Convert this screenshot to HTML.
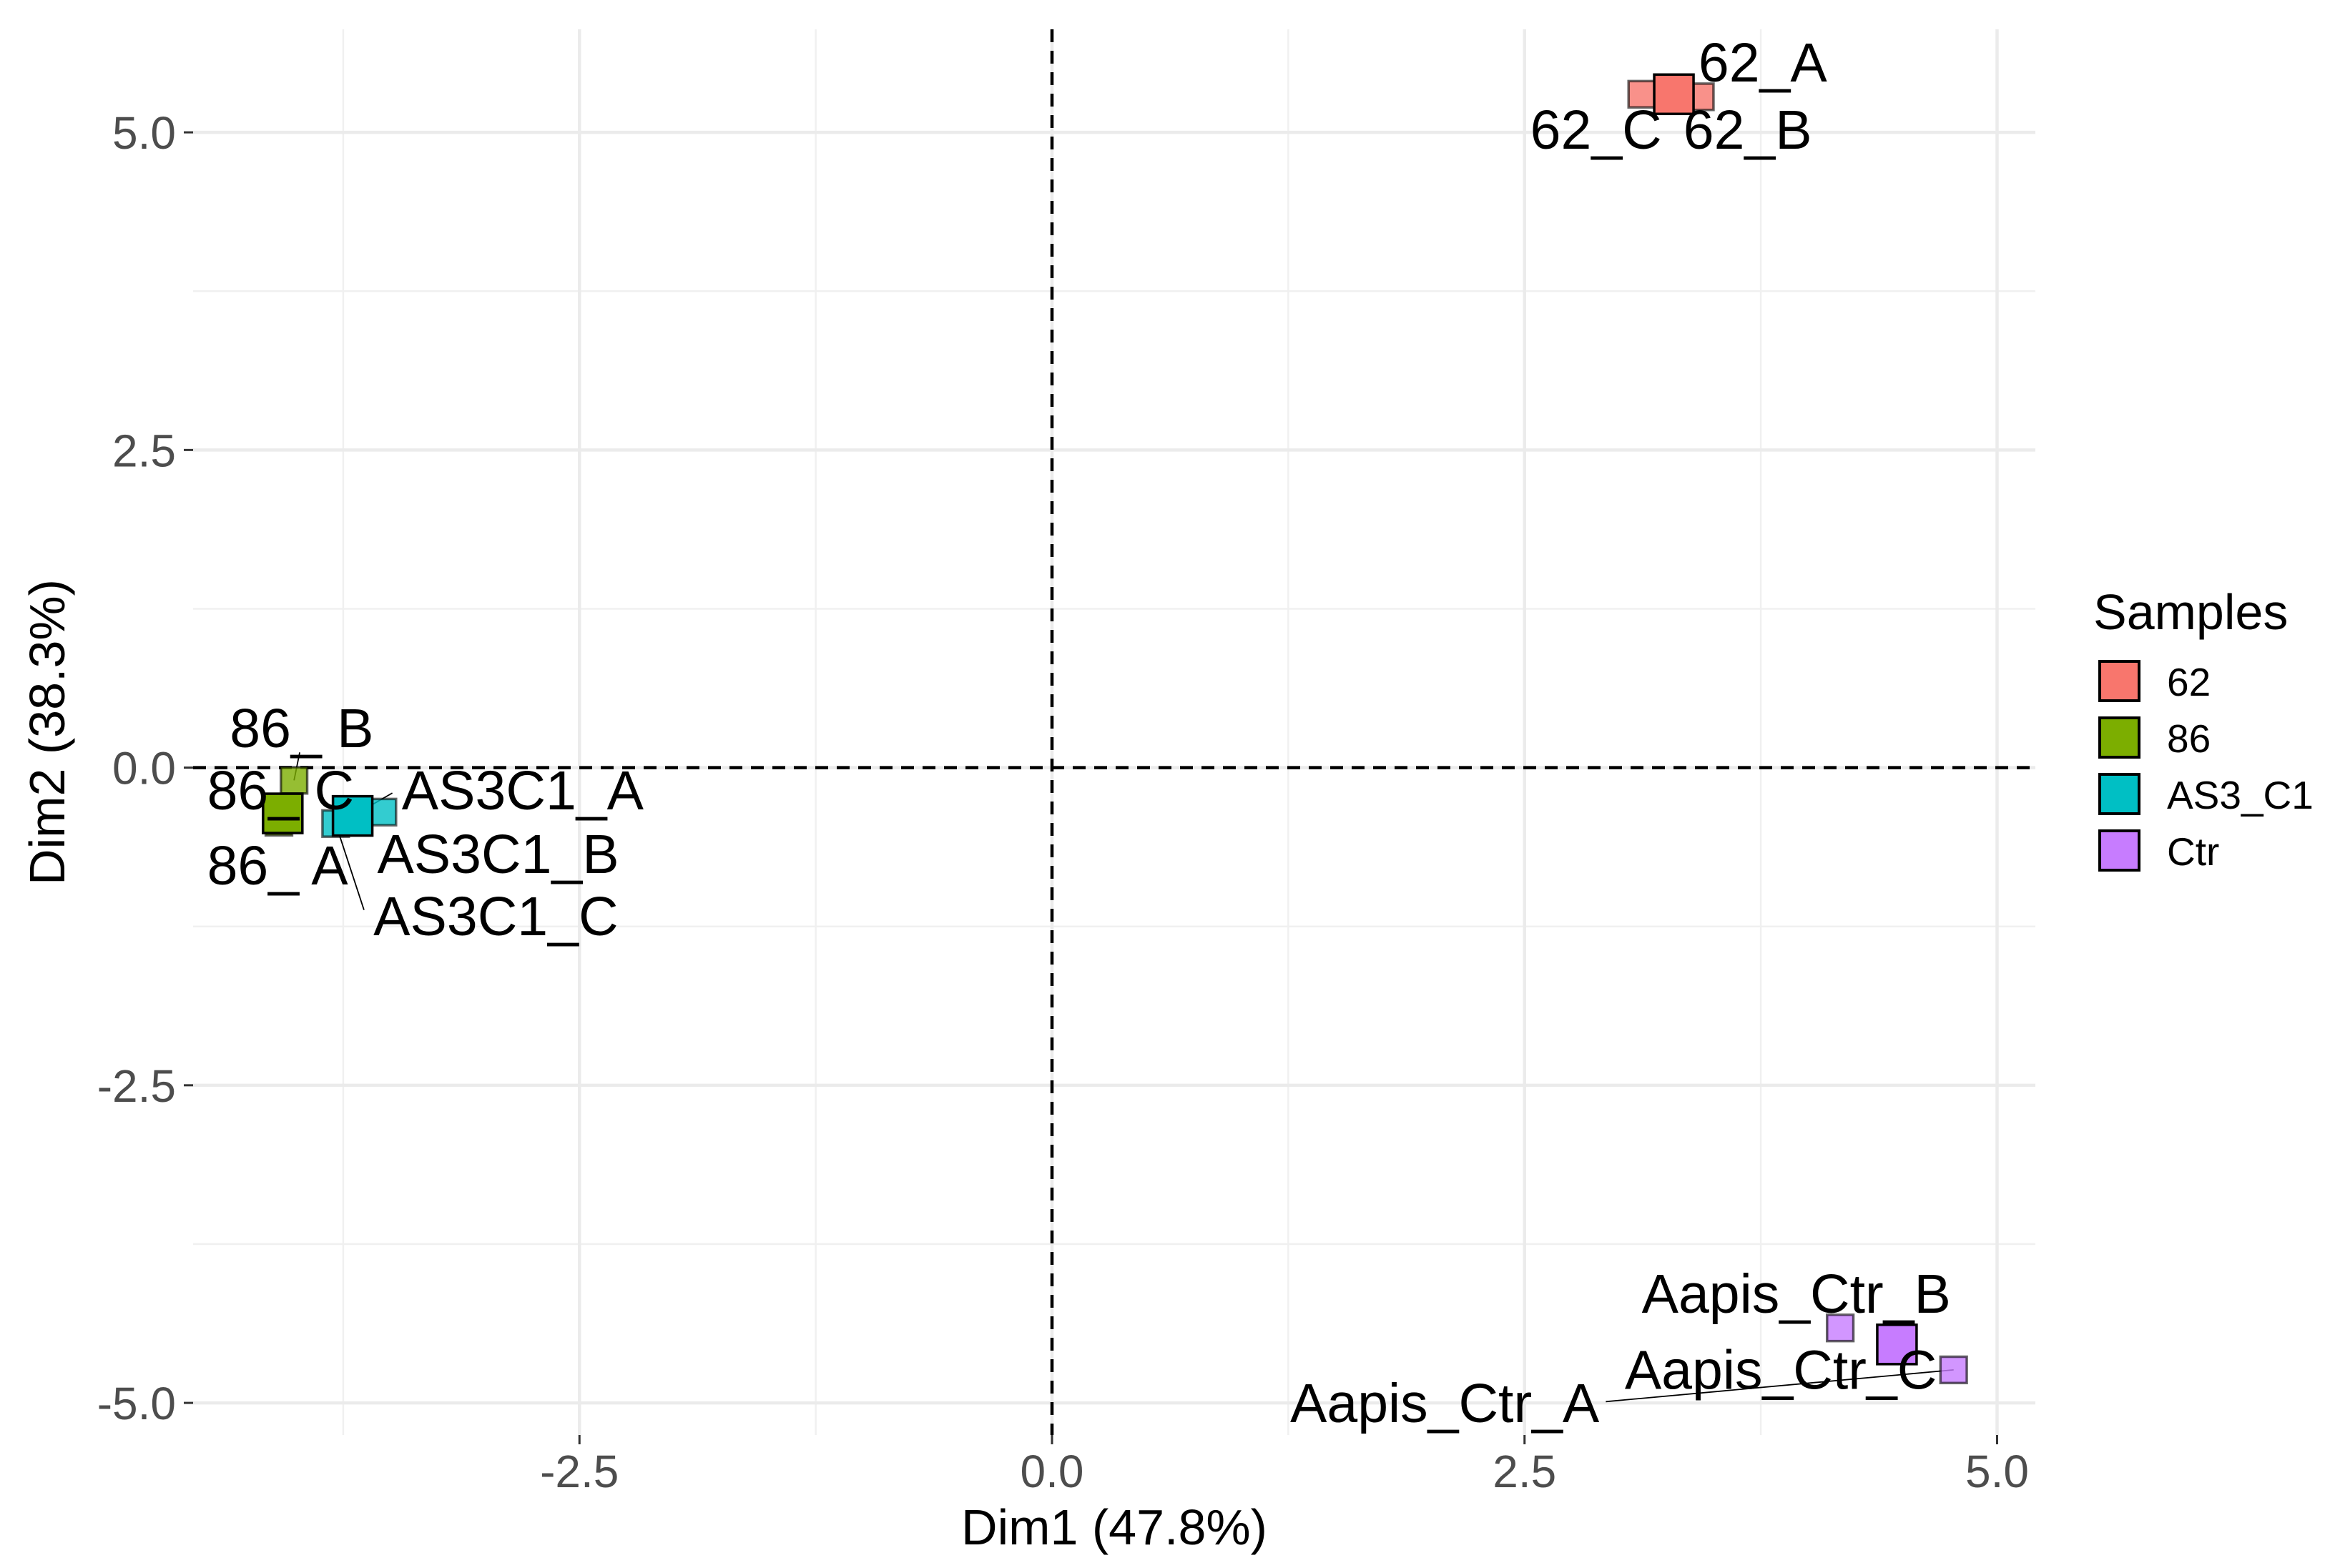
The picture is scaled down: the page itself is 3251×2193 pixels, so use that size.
<!DOCTYPE html>
<html><head><meta charset="utf-8">
<style>
html,body{margin:0;padding:0;background:#fff;}
svg{display:block;font-family:"Liberation Sans",Arial,sans-serif;}
</style></head>
<body>
<svg id="chart" width="3251" height="2193" viewBox="0 0 3251 2193" xmlns="http://www.w3.org/2000/svg">
<rect x="0" y="0" width="3251" height="2193" fill="#fff"/>
<g id="grid"></g>
<g id="refs"></g>
<g id="segs"></g>
<g id="pts"></g>
<g id="lbls"></g>
<g id="axes"></g>
<text x="1558" y="2160" font-size="70" text-anchor="middle" fill="#000">Dim1 (47.8%)</text>
<text transform="translate(90,1024) rotate(-90)" font-size="70" text-anchor="middle" fill="#000">Dim2 (38.3%)</text>
<g id="legend">
<text x="2927" y="880" font-size="70" fill="#000">Samples</text>
</g>
</svg>
<script>
const names = ["62_C","62_B","62_A","86_A","86_B","86_C","AS3C1_B","AS3C1_C","AS3C1_A","Aapis_Ctr_B","Aapis_Ctr_A","Aapis_Ctr_C"];
const groups = ["62","62","62","86","86","86","AS3_C1","AS3_C1","AS3_C1","Ctr","Ctr","Ctr"];
const xs = [3.12,3.43,3.29,-4.09,-4.01,-4.07,-3.54,-3.79,-3.70,4.17,4.77,4.47];
const ys = [5.30,5.28,5.30,-0.43,-0.10,-0.36,-0.35,-0.44,-0.38,-4.41,-4.74,-4.54];
const sizes = [0.3,0.3,1,0.3,0.3,1,0.3,0.3,1,0.3,0.3,1];
const labelText = ["62_C","62_B","62_A","86_ A","86_ B","86_ C","AS3C1_B","AS3C1_C","AS3C1_A","Aapis_Ctr_B","Aapis_Ctr_A","Aapis_Ctr_C"];
const labelX = [2.53,3.34,3.42,-4.47,-4.35,-4.47,-3.57,-3.59,-3.44,3.12,1.26,3.03];
const labelY = [4.87,4.87,5.40,-0.92,0.16,-0.33,-0.83,-1.32,-0.33,-4.29,-5.15,-4.89];
const segStartX = [null,null,null,null,-3.98,null,null,-3.64,-3.49,null,2.93,null];
const segStartY = [null,null,null,null,0.12,null,null,-1.12,-0.20,null,-4.99,null];
const legendCats = ["62","86","AS3_C1","Ctr"];
const colors = ["#F8766D","#7CAE00","#00BFC4","#C77CFF"];
const xTicks = [-2.5,0.0,2.5,5.0];
const xTickLabels = ["-2.5","0.0","2.5","5.0"];
const yTicks = [-5.0,-2.5,0.0,2.5,5.0];
const yTickLabels = ["-5.0","-2.5","0.0","2.5","5.0"];
const xMinor = [-3.75,-1.25,1.25,3.75];
const yMinor = [-3.75,-1.25,1.25,3.75];

const NS="http://www.w3.org/2000/svg";
const L=270,R=2846,T=41,B=2007;
function sx(v){return 1471+v*264.3;}
function sy(v){return 1073.6-v*177.7;}
function mk(tag,attrs,parent){const e=document.createElementNS(NS,tag);for(const k in attrs)e.setAttribute(k,attrs[k]);parent.appendChild(e);return e;}
const grid=document.getElementById('grid');
xMinor.forEach(v=>{const e=mk('line',{x1:sx(v),x2:sx(v),y1:T,y2:B,stroke:'#f0f0f0','stroke-width':2.5},grid);

});
yMinor.forEach(v=>{const e=mk('line',{x1:L,x2:R,y1:sy(v),y2:sy(v),stroke:'#f0f0f0','stroke-width':2.5},grid);

});
xTicks.forEach(v=>{const e=mk('line',{x1:sx(v),x2:sx(v),y1:T,y2:B,stroke:'#ebebeb','stroke-width':4.5},grid);

});
yTicks.forEach(v=>{const e=mk('line',{x1:L,x2:R,y1:sy(v),y2:sy(v),stroke:'#ebebeb','stroke-width':4.5},grid);

});
const refs=document.getElementById('refs');
let e1=mk('line',{x1:sx(0),x2:sx(0),y1:T,y2:B,stroke:'#000','stroke-width':4.5,'stroke-dasharray':'18 12'},refs);


let e2=mk('line',{x1:L,x2:R,y1:sy(0),y2:sy(0),stroke:'#000','stroke-width':4.5,'stroke-dasharray':'18 12'},refs);


const axes=document.getElementById('axes');
xTicks.forEach((v,i)=>{const t=mk('line',{x1:sx(v),x2:sx(v),y1:B,y2:B+13,stroke:'#333','stroke-width':3},axes);


const tx=mk('text',{x:sx(v),y:2080,'font-size':64,'text-anchor':'middle',fill:'#4d4d4d'},axes);tx.textContent=xTickLabels[i];

});
yTicks.forEach((v,i)=>{const t=mk('line',{x1:257,x2:L,y1:sy(v),y2:sy(v),stroke:'#333','stroke-width':3},axes);


const tx=mk('text',{x:246,y:sy(v)+23,'font-size':64,'text-anchor':'end',fill:'#4d4d4d'},axes);tx.textContent=yTickLabels[i];

});
const segs=document.getElementById('segs');
names.forEach((n,i)=>{if(segStartX[i]===null)return;
const s=mk('line',{x1:sx(segStartX[i]),y1:sy(segStartY[i]),x2:sx(xs[i]),y2:sy(ys[i]),stroke:'#000','stroke-width':1.8},segs);

});
const pts=document.getElementById('pts');
const order=names.map((n,i)=>i).sort((a,b)=>sizes[a]-sizes[b]);
order.forEach(i=>{const c=colors[legendCats.indexOf(groups[i])];const s=29+26*sizes[i];
const r=mk('rect',{x:sx(xs[i])-s/2,y:sy(ys[i])-s/2,width:s,height:s,fill:c,'fill-opacity':sizes[i]<1?0.8:1,stroke:'#000','stroke-opacity':sizes[i]<1?0.6:1,'stroke-width':3.5},pts);

});
const lbls=document.getElementById('lbls');
names.forEach((n,i)=>{const t=mk('text',{x:sx(labelX[i]),y:sy(labelY[i]),'font-size':77,fill:'#000'},lbls);t.textContent=labelText[i];

});
const leg=document.getElementById('legend');
legendCats.forEach((c,i)=>{const y=925+i*79;
const r=mk('rect',{x:2936,y:y,width:55,height:55,fill:colors[i],stroke:'#000','stroke-width':4},leg);


const t=mk('text',{x:3030,y:y+48,'font-size':55,fill:'#000'},leg);t.textContent=c;

});
</script>
</body></html>
